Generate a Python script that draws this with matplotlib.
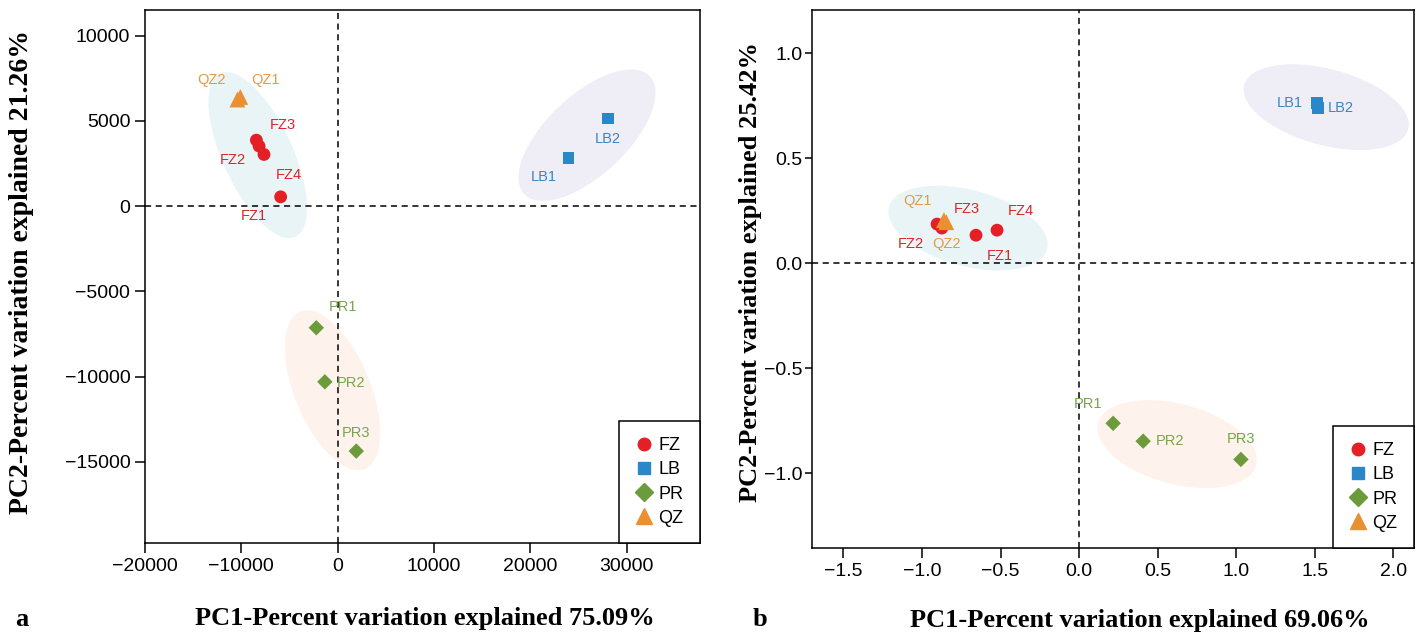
import numpy as np
import matplotlib
matplotlib.use("Agg")
import matplotlib.pyplot as plt
from matplotlib.lines import Line2D
from matplotlib.ticker import FuncFormatter

plt.rcParams['font.family'] = ['Liberation Sans', 'DejaVu Sans']

groups = ['FZ', 'LB', 'PR', 'QZ']
colors = {'FZ': '#e41f26', 'LB': '#2a88c9', 'PR': '#6b9b3a', 'QZ': '#ea8f32'}
txtcol = {'FZ': '#d8262c', 'LB': '#3c86bf', 'PR': '#78a44a', 'QZ': '#e29a45'}
markers = {'FZ': 'o', 'LB': 's', 'PR': 'D', 'QZ': '^'}
msize = {'FZ': 85, 'LB': 70, 'PR': 62, 'QZ': 130}

# panel a (raw PCA scores)
a_names = ['FZ1', 'FZ2', 'FZ3', 'FZ4', 'LB1', 'LB2', 'PR1', 'PR2', 'PR3', 'QZ1', 'QZ2']
a_pc1 = [-5910, -8150, -8430, -7640, 23970, 28080, -2210, -1320, 1940, -10100, -10400]
a_pc2 = [545, 3520, 3870, 3030, 2830, 5140, -7130, -10300, -14360, 6400, 6250]
a_off = [(-19, -14), (-19, -10), (19, 11), (18, -15), (-18, -14), (0, -15),
         (19, 15), (19, -1), (0, 13), (18, 12), (-19, 14)]

# panel b (scaled PCA scores)
b_names = a_names
b_pc1 = [-0.656, -0.904, -0.873, -0.522, 1.516, 1.522, 0.217, 0.408, 1.03, -0.86, -0.845]
b_pc2 = [0.133, 0.186, 0.167, 0.157, 0.762, 0.738, -0.763, -0.848, -0.935, 0.205, 0.195]
b_off = [(17, -15), (-19, -14), (18, 14), (17, 14), (-20, 0), (16, 0),
         (-18, 14), (19, 0), (0, 15), (-19, 14), (0, -16)]

# group ellipses: centre, semi-axis vector 1, semi-axis vector 2 (data units)
a_ell = {'FZ': ((-8290, 2990), (3900, -4790), (3300, 860), '#e8f4f6'),
         'LB': ((25900, 4160), (6520, 3450), (2840, -1710), '#efedf5'),
         'PR': ((-520, -10790), (3350, -4610), (3650, 840), '#fdf3ec')}
b_ell = {'FZ': ((-0.707, 0.167), (0.503, -0.10), (-0.062, -0.175), '#e8f4f6'),
         'LB': ((1.573, 0.743), (0.522, -0.105), (-0.062, -0.175), '#efedf5'),
         'PR': ((0.624, -0.862), (0.503, -0.10), (-0.066, -0.184), '#fdf3ec')}


def draw(ax, names, x, y, offs, ells):
    t = np.linspace(0, 2 * np.pi, 200)
    for k, (c, u, v, col) in ells.items():
        ex = c[0] + u[0] * np.cos(t) + v[0] * np.sin(t)
        ey = c[1] + u[1] * np.cos(t) + v[1] * np.sin(t)
        ax.fill(ex, ey, color=col, lw=0, zorder=1)
    ax.axhline(0, color='black', ls=(0, (4, 3)), lw=1.1, zorder=2)
    ax.axvline(0, color='black', ls=(0, (4, 3)), lw=1.1, zorder=2)
    for n, xi, yi, o in zip(names, x, y, offs):
        g = n[:2]
        ax.scatter(xi, yi, s=msize[g], marker=markers[g], color=colors[g],
                   edgecolors='none', zorder=3)
        ax.annotate(n, (xi, yi), xytext=o, textcoords='offset points',
                    ha='center', va='center', fontsize=10.5, color=txtcol[g], zorder=4)
    for s in ax.spines.values():
        s.set_linewidth(1.1)
    ax.tick_params(labelsize=14, length=7, width=1.1, direction='out')
    handles = [Line2D([], [], ls='none', marker=markers[g], color=colors[g],
                      markersize=9 if g != 'QZ' else 11) for g in groups]
    leg = ax.legend(handles, groups, loc='lower right', borderaxespad=0,
                    fancybox=False, framealpha=1, edgecolor='black', fontsize=13,
                    handletextpad=0.3, handlelength=1.0, labelspacing=0.4,
                    borderpad=0.9)
    leg.get_frame().set_linewidth(1.1)


fig = plt.figure(figsize=(14.28, 6.34), dpi=100)
ax1 = fig.add_axes([0.1015, 0.1435, 0.3885, 0.8405])
ax2 = fig.add_axes([0.5686, 0.1356, 0.4214, 0.8484])

draw(ax1, a_names, a_pc1, a_pc2, a_off, a_ell)
ax1.set_xlim(-20000, 37600)
ax1.set_ylim(-19750, 11490)
ax1.set_xticks([-20000, -10000, 0, 10000, 20000, 30000])
ax1.set_yticks([10000, 5000, 0, -5000, -10000, -15000])

draw(ax2, b_names, b_pc1, b_pc2, b_off, b_ell)
ax2.set_xlim(-1.70, 2.13)
ax2.set_ylim(-1.357, 1.205)
ax2.set_xticks([-1.5, -1.0, -0.5, 0.0, 0.5, 1.0, 1.5, 2.0])
ax2.set_yticks([1.0, 0.5, 0.0, -0.5, -1.0])
fmt = FuncFormatter(lambda v, p: ('%.1f' % v).replace('-', '\u2212'))
ax2.xaxis.set_major_formatter(fmt)
ax2.yaxis.set_major_formatter(fmt)
ax2.tick_params(axis='y', length=5, pad=2)

lab = dict(family=['Liberation Serif', 'DejaVu Serif'], weight='bold')
fig.text(425 / 1428, 1 - 618 / 634, 'PC1-Percent variation explained 75.09%',
         ha='center', va='center', fontsize=19, **lab)
fig.text(22 / 1428, 1 - 272 / 634, 'PC2-Percent variation explained 21.26%',
         ha='center', va='center', rotation=90, fontsize=20, **lab)
fig.text(1140 / 1428, 1 - 620 / 634, 'PC1-Percent variation explained 69.06%',
         ha='center', va='center', fontsize=19, **lab)
fig.text(751 / 1428, 1 - 272 / 634, 'PC2-Percent variation explained 25.42%',
         ha='center', va='center', rotation=90, fontsize=19, **lab)
fig.text(22 / 1428, 1 - 620 / 634, 'a', ha='center', va='center', fontsize=19, **lab)
fig.text(760 / 1428, 1 - 620 / 634, 'b', ha='center', va='center', fontsize=19, **lab)

fig.savefig('out.png', dpi=100)
